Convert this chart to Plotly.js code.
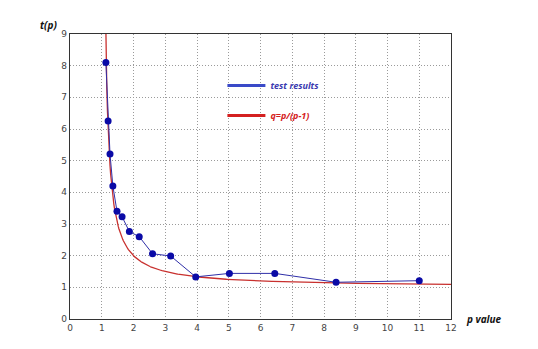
<!DOCTYPE html>
<html><head><meta charset="utf-8">
<script src="https://cdn.plot.ly/plotly-3.0.1.min.js"></script>
<style>html,body{margin:0;padding:0;background:#fff;}#chart{width:538px;height:349px;}</style>
</head><body><div id="chart"></div>
<script>
// Measured test results
const pValues = [1.13, 1.20, 1.26, 1.35, 1.48, 1.64, 1.87, 2.18, 2.60, 3.17, 3.96, 5.02, 6.45, 8.38, 11.0];
const tValues = [8.10, 6.25, 5.21, 4.20, 3.40, 3.23, 2.76, 2.60, 2.06, 1.99, 1.33, 1.44, 1.44, 1.16, 1.21];
// Theoretical curve q = p/(p-1), sampled at these p values
const curveP = [];
for (let p = 1.1; p <= 12.0001; p += 0.02) curveP.push(+p.toFixed(3));
const curveQ = curveP.map(p => p / (p - 1));
const xTicks = [0,1,2,3,4,5,6,7,8,9,10,11,12];
const yTicks = [0,1,2,3,4,5,6,7,8,9];
const seriesNames = ['test results', 'q=p/(p-1)'];

const blue = '#2f2fa8', red = '#c8302e';
const traces = [
  {x: curveP, y: curveQ, mode: 'lines', line: {color: red, width: 1.3}, showlegend: false, hoverinfo: 'skip'},
  {x: pValues, y: tValues, mode: 'lines+markers', line: {color: blue, width: 1}, marker: {color: '#0a0aa6', size: 7}, showlegend: false},
  {x: [null], y: [null], mode: 'lines', line: {color: '#3a4ac8', width: 3}, name: '<b><i><span style="color:#3a3ab0">' + seriesNames[0] + '</span></i></b>', legendgroup: 'a'},
  {x: [null], y: [null], mode: 'lines', line: {color: '#d42020', width: 3}, name: '<b><i><span style="color:#d42020">' + seriesNames[1] + '</span></i></b>', legendgroup: 'b'}
];
const axisCommon = {
  showline: true, mirror: true, linecolor: '#333', linewidth: 1.2,
  showgrid: true, gridcolor: '#9a9a9a', griddash: '1px,2px', gridwidth: 1,
  zeroline: false, ticks: '', tickfont: {family: 'DejaVu Sans, sans-serif', size: 9, color: '#444'}
};
const layout = {
  width: 538, height: 349,
  margin: {l: 70, r: 87, t: 34, b: 30},
  paper_bgcolor: '#fff', plot_bgcolor: '#fff',
  xaxis: Object.assign({}, axisCommon, {range: [0, 12], tickvals: xTicks, ticktext: xTicks.map(String)}),
  yaxis: Object.assign({}, axisCommon, {range: [0, 9], tickvals: yTicks, ticktext: yTicks.map(String)}),
  showlegend: true,
  legend: {x: 0.40, y: 0.87, xanchor: 'left', yanchor: 'top', bgcolor: 'rgba(0,0,0,0)',
           font: {family: 'Open Sans, sans-serif', size: 9}, tracegroupgap: 11, traceorder: 'grouped', itemwidth: 38},
  annotations: [
    {text: '<b><i>t(p)</i></b>', xref: 'paper', yref: 'paper', x: -0.03, y: 1.0, xanchor: 'right', yanchor: 'bottom', showarrow: false,
     font: {family: 'Open Sans, sans-serif', size: 10, color: '#111'}},
    {text: '<b><i>p value</i></b>', xref: 'paper', yref: 'paper', x: 1.035, y: 0.0, xanchor: 'left', yanchor: 'middle', showarrow: false,
     font: {family: 'Open Sans, sans-serif', size: 10, color: '#111'}}
  ]
};
Plotly.newPlot('chart', traces, layout, {displayModeBar: false, staticPlot: true});
</script></body></html>
